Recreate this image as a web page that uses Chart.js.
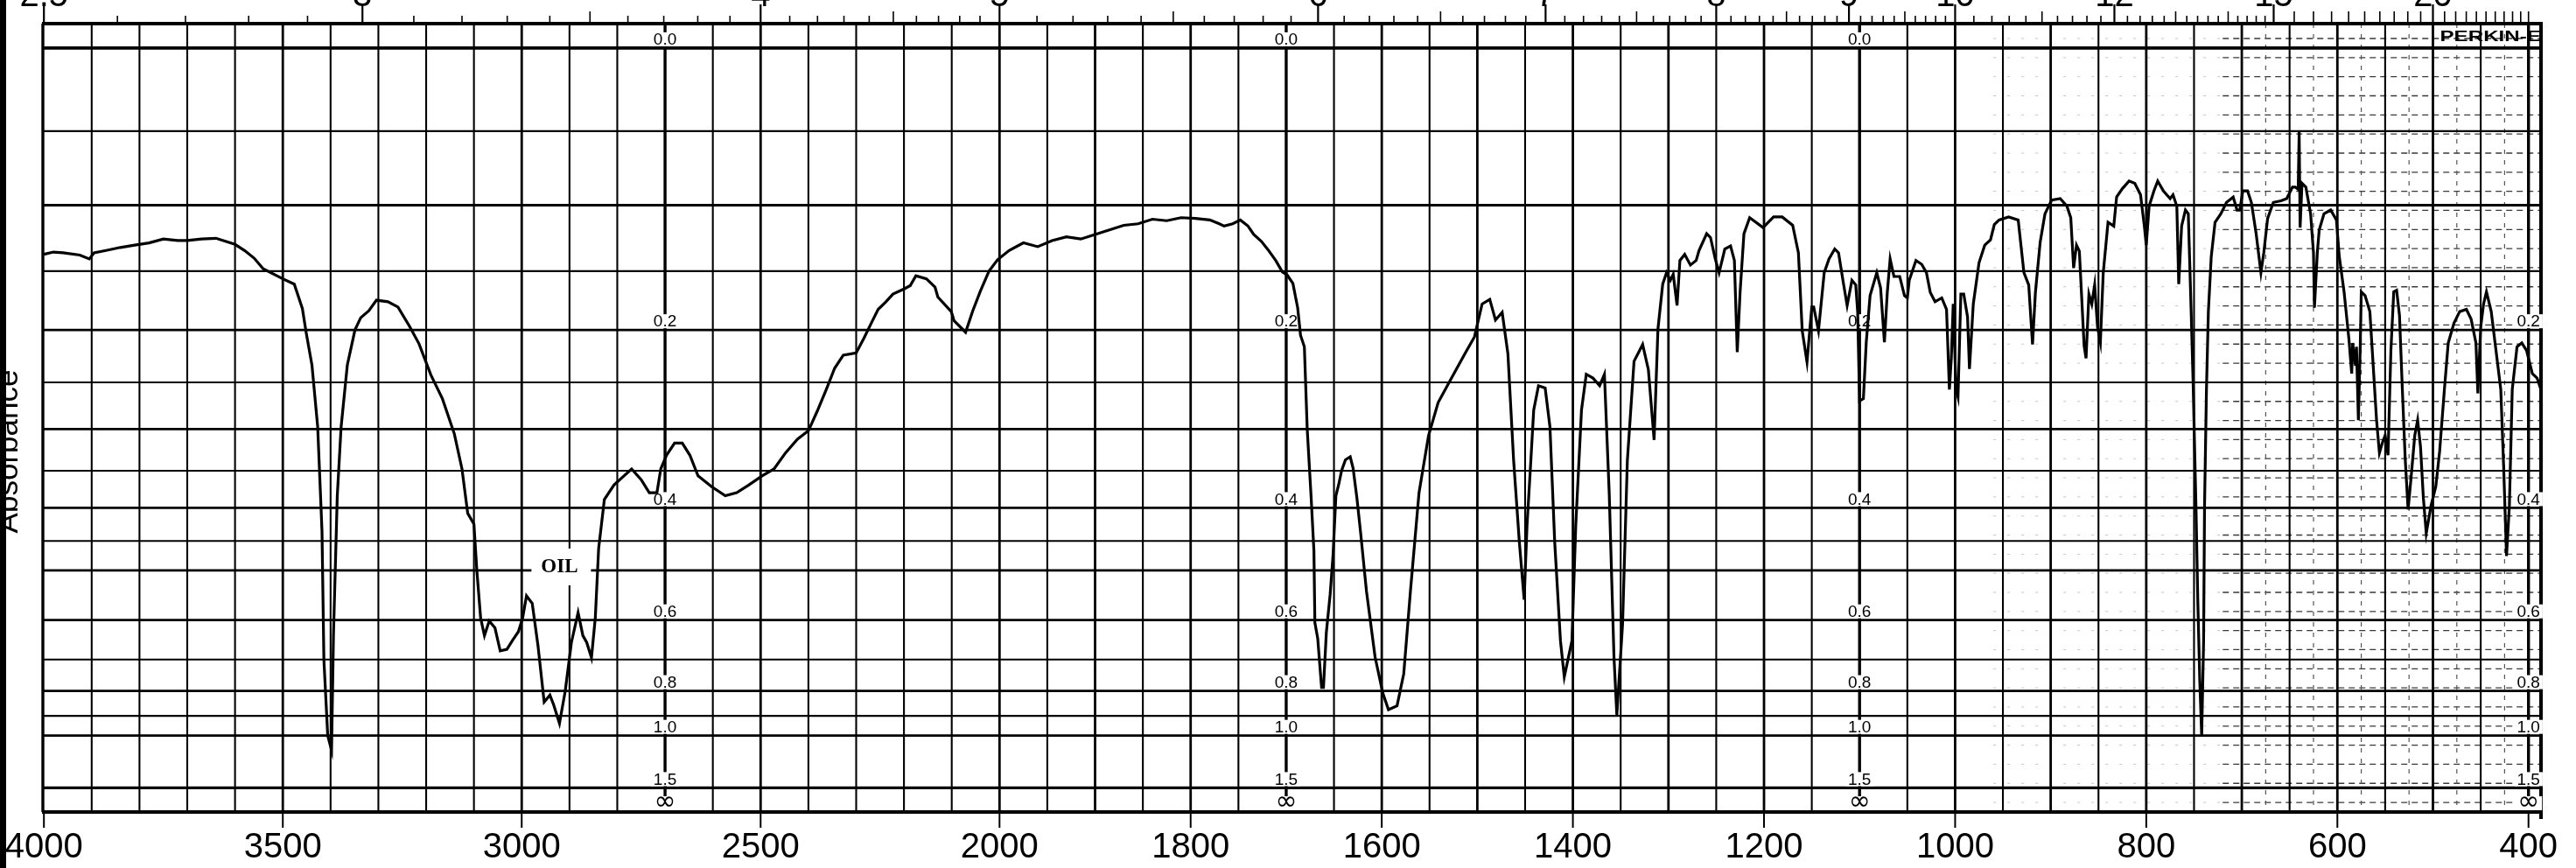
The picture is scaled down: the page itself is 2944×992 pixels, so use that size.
<!DOCTYPE html>
<html>
<head>
<meta charset="utf-8">
<script src="https://cdn.jsdelivr.net/npm/chart.js@4.4.1/dist/chart.umd.min.js"></script>
<style>
html,body{margin:0;padding:0;background:#ffffff;overflow:hidden}
#wrap{position:relative;width:2944px;height:992px}
</style>
</head>
<body>
<div id="wrap"><canvas id="c" width="2944" height="992"></canvas></div>
<script>
// ---------- DATA ----------
// wavenumber in cm-1
const wavenumbers = [
 4000,3980,3960,3925,3905,3895,3870,3840,3810,3780,3750,3720,3700,3670,3640,3620,3600,3580,3560,3541,
 3500,3476,3459,3451,3439,3427,3418,3414,3406,3398,3394,3386,3378,3365,3349,3337,3320,3304,3280,3259,
 3235,3215,3190,3166,3141,3125,3113,3100,3094,3086,3078,3068,3056,3045,3031,3019,3007,2998,2990,2978,
 2966,2953,2941,2933,2921,2909,2896,2882,2872,2864,2854,2846,2839,2827,2807,2786,2770,2750,2733,2717,
 2709,2697,2680,2664,2648,2631,2603,2574,2550,2525,2497,2472,2448,2423,2400,2382,2362,2345,2327,2300,
 2284,2266,2254,2239,2223,2199,2187,2175,2153,2135,2129,2101,2095,2071,2056,2040,2022,2004,
 1990,1975,1960,1945,1930,1915,1900,1885,1870,1855,1840,1825,1810,1795,1780,1770,1765,1756,1748,1740,
 1734,1726,1719,1711,1704,1699,1693,1688,1685,1681,1678,1674,1671,1670,1667,1663,1661,1658,1654,1651,
 1648,1645,1642,1638,1633,1630,1626,1622,1618,1616,1607,1599,1593,1584,1577,1570,1561,1551,1541,1527,
 1513,1503,1495,1487,1481,1474,1468,1462,1456,1451,1448,1444,1441,1436,1429,1424,1419,1413,1409,1401,
 1397,1391,1386,1379,1372,1367,1362,1357,1354,1348,1343,1336,1327,1321,1315,1311,1306,1302,1298,1295,
 1291,1288,1283,1277,1271,1268,1260,1256,1251,1247,1241,1235,1231,1228,1225,1221,1215,1201,1190,1181,
 1170,1164,1160,1155,1150,1148,1143,1137,1132,1126,1122,1117,1113,1108,1104,1102,1100,1096,1093,1089,
 1082,1078,1074,1071,1068,1064,1058,1053,1050,1048,1041,1035,1030,1026,1021,1014,1009,1006,1004,1002,
 999,997,994,991,987,985,981,975,969,963,959,954,944,934,928,923,919,916,911,906,
 899,890,883,879,876,873,870,865,863,860,857,854,851,848,845,840,834,831,825,818,
 812,806,802,800,797,792,788,782,775,772,768,766,763,759,756,753,751,748,746,744,
 742,740,739,737,735,732,728,722,716,709,705,702,699,694,690,685,680,677,673,667,
 659,653,647,644,641,640,639,637,633,628,625,624,621,619,614,607,601,598,593,588,
 585,584,581,580,578,576,575,571,566,562,559,556,553,550,547,544,541,538,535,532,
 529,526,523,519,516,513,510,507,502,497,493,488,484,478,472,465,460,455,453,450,
 447,444,439,434,429,426,423,420,417,412,407,402,396,391,387
];
// transmittance in % (the chart paper is linear in %T, labelled in absorbance)
const transmittance = [
 73.0,73.3,73.2,72.9,72.4,73.2,73.5,73.9,74.2,74.5,75.0,74.8,74.8,75.0,75.1,74.7,74.3,73.5,72.5,71.1,
 69.8,69.1,65.9,62.7,58.5,50.4,36.8,19.9,10.0,8.1,23.1,41.4,50.4,58.5,63.1,64.7,65.6,67.0,66.8,66.1,
 63.6,61.3,57.2,54.1,49.5,44.9,39.1,37.7,31.7,25.4,23.1,25.0,24.1,21.1,21.3,22.5,23.6,25.4,28.3,27.3,
 21.8,14.4,15.3,14.0,11.6,15.8,22.2,26.1,23.1,22.2,20.2,25.4,34.5,40.9,42.8,44.0,44.9,43.5,41.8,41.8,
 44.9,46.7,48.3,48.3,46.7,44.0,42.6,41.4,41.8,42.8,44.0,44.9,47.0,48.8,49.9,52.4,55.4,58.1,59.8,60.1,
 62.0,64.3,65.8,66.7,67.8,68.5,68.9,70.2,69.8,68.7,67.4,65.5,64.3,62.8,65.6,68.2,70.8,72.3,
 73.5,74.5,74.0,74.8,75.3,75.0,75.6,76.2,76.8,77.0,77.6,77.4,77.8,77.7,77.5,77.0,76.7,77.0,77.5,76.7,
 75.6,74.7,73.6,72.2,70.7,70.3,69.2,66.0,62.4,60.9,50.1,41.4,34.2,24.8,22.7,16.3,16.3,23.5,28.5,33.6,
 41.4,42.9,44.7,46.1,46.5,45.0,41.1,36.4,31.4,28.9,20.3,15.6,13.4,13.9,18.1,28.9,41.8,49.3,53.6,56.8,
 60.0,62.2,66.5,67.1,64.4,65.4,60.0,46.0,35.3,27.8,37.5,46.0,52.6,55.8,55.5,50.4,35.3,22.4,17.7,22.4,
 37.5,52.6,57.3,56.8,55.8,57.3,41.8,20.3,12.7,24.6,46.0,59.0,61.2,57.9,48.7,63.2,69.1,70.6,69.6,70.4,
 66.3,72.2,73.0,71.6,72.2,73.5,75.7,75.2,72.4,70.6,73.7,74.1,72.2,60.2,68.1,75.7,77.8,76.5,77.9,77.9,
 76.8,73.2,63.0,58.9,66.1,66.1,63.0,70.6,72.4,73.7,73.2,69.3,66.3,69.6,69.0,65.5,53.8,54.1,61.5,67.6,
 70.6,68.6,61.5,68.0,72.4,70.1,70.1,67.6,67.3,69.6,72.2,71.7,70.6,68.0,66.8,67.3,65.8,55.3,59.4,66.5,
 55.3,54.3,67.8,67.8,64.8,58.0,66.5,71.9,74.2,74.9,76.9,77.5,77.9,77.5,70.6,69.0,61.2,68.0,74.6,78.3,
 80.1,80.3,79.3,77.8,71.2,74.2,73.4,61.0,59.4,67.8,66.5,69.0,63.5,61.5,70.6,77.2,76.7,80.5,81.6,82.6,
 82.3,80.8,76.7,74.2,79.3,81.3,82.6,81.3,80.3,80.8,79.3,69.1,76.7,78.8,78.3,65.5,56.4,40.1,27.4,17.2,
 10.0,22.3,40.1,55.3,65.5,72.7,77.2,78.3,79.8,80.5,78.8,78.8,81.3,81.3,79.8,75.7,70.6,73.2,77.7,79.8,
 80.0,80.3,81.8,81.8,81.5,89.0,76.5,82.3,81.8,78.3,73.2,66.0,73.2,76.2,78.3,78.8,77.5,72.7,68.1,62.0,
 57.4,61.4,58.4,60.9,51.3,61.4,68.1,67.6,65.5,57.4,51.3,47.0,48.3,49.3,46.7,60.4,68.1,68.3,65.0,55.3,
 46.2,39.6,43.6,49.3,51.3,47.8,41.1,36.5,40.1,42.6,47.2,55.3,61.4,64.0,65.5,65.8,64.5,61.4,54.8,63.5,
 66.5,68.1,65.5,60.4,55.3,45.2,33.5,40.1,55.3,60.9,61.4,60.4,57.4,56.8,55.3
];
// axis labels
const xTickLabels = [4000,3500,3000,2500,2000,1800,1600,1400,1200,1000,800,600,400];
const micronLabels = [2.5,3,4,5,6,7,8,9,10,12,15,20];
const absorbanceGrid = [0,0.05,0.1,0.15,0.2,0.25,0.3,0.35,0.4,0.45,0.5,0.6,0.7,0.8,0.9,1.0,1.5];
const absorbanceLabels = ['0.0','0.2','0.4','0.6','0.8','1.0','1.5','\u221E'];
const absorbanceLabelValues = [0,0.2,0.4,0.6,0.8,1.0,1.5,Infinity];
const labelColumns = [2700,1700,1100,400];
const yAxisTitle = 'Absorbance';
const sampleNote = {text:'OIL', wavenumber:2921, transmittance:32.2};

// ---------- custom x scale: 4000-2000 compressed, 2000-400 expanded x2 ----------
class SpectrumScale extends Chart.LinearScale {
  static id = 'spectrum';
  _u(v){
    const b = this.options.breakpoint, k = this.options.stretch, hi = this.max;
    return v >= b ? (hi - v) : (hi - b) + k * (b - v);
  }
  _ends(){
    const a = this.chart.chartArea;
    if (a && a.right > a.left) return [a.left, a.right];
    return [this.left, this.right];
  }
  getPixelForValue(v){
    const [L,R] = this._ends();
    return L + (R - L) * this._u(v) / this._u(this.min);
  }
  getValueForPixel(p){
    const [L,R] = this._ends();
    const u = (p - L) / (R - L) * this._u(this.min);
    const b = this.options.breakpoint, k = this.options.stretch, hi = this.max;
    return u <= hi - b ? hi - u : b - (u - (hi - b)) / k;
  }
}
Chart.register(SpectrumScale);

const TMAX = 103.2;
const tFromA = A => (A === Infinity ? 0 : 100 * Math.pow(10, -A));

// ---------- chart paper plugin ----------
const paper = {
  id: 'paper',
  beforeDatasetsDraw(chart){
    const ctx = chart.ctx, xs = chart.scales.x, ys = chart.scales.y, a = chart.chartArea;
    const X = v => xs.getPixelForValue(v), Y = t => ys.getPixelForValue(t);
    ctx.save();
    ctx.lineCap = 'butt';
    // fine dashed ruling visible in the low-wavenumber part of the scan
    for (let t = 1.25; t < TMAX; t += 2.5) {
      ctx.setLineDash([3,13]);
      ctx.strokeStyle = '#c4c4c4'; ctx.lineWidth = 1;
      ctx.beginPath(); ctx.moveTo(X(960), Y(t)); ctx.lineTo(X(720), Y(t)); ctx.stroke();
      ctx.setLineDash([7,5]);
      ctx.strokeStyle = '#3a3a3a'; ctx.lineWidth = 1.3;
      ctx.beginPath(); ctx.moveTo(X(720), Y(t)); ctx.lineTo(a.right, Y(t)); ctx.stroke();
    }
    ctx.setLineDash([5,7]);
    ctx.strokeStyle = '#555'; ctx.lineWidth = 1.2;
    for (let w = 675; w > 386; w -= 50) {
      ctx.beginPath(); ctx.moveTo(X(w), a.top); ctx.lineTo(X(w), a.bottom); ctx.stroke();
    }
    ctx.setLineDash([]);
    ctx.strokeStyle = '#000';
    // vertical grid
    const vgrid = [];
    for (let w = 3900; w > 2000; w -= 100) vgrid.push(w);
    for (let w = 2000; w > 400; w -= 50) vgrid.push(w);
    vgrid.push(400);
    vgrid.forEach(w => {
      const heavy = labelColumns.includes(w);
      const mid = (w >= 2000 && w % 500 === 0) || (w < 2000 && w % 100 === 0);
      ctx.lineWidth = heavy ? 3.4 : (mid ? 2.8 : 2.1);
      const x = X(w);
      ctx.beginPath(); ctx.moveTo(x, a.top); ctx.lineTo(x, a.bottom); ctx.stroke();
    });
    // horizontal grid (absorbance lines on a %T scale)
    absorbanceGrid.forEach(A => {
      const heavy = [0,0.1,0.2,0.3,0.4,0.5,0.6,0.8,1.0,1.5].some(v => Math.abs(v - A) < 1e-9);
      ctx.lineWidth = A === 0 ? 3.8 : (A === 1.5 ? 3.4 : (heavy ? 2.8 : 2.1));
      const y = Y(tFromA(A));
      ctx.beginPath(); ctx.moveTo(a.left, y); ctx.lineTo(a.right, y); ctx.stroke();
    });
    // frame
    ctx.lineWidth = 4;
    ctx.beginPath(); ctx.moveTo(a.left, Y(TMAX)); ctx.lineTo(a.right, Y(TMAX)); ctx.stroke();
    ctx.beginPath(); ctx.moveTo(a.left, Y(0)); ctx.lineTo(a.right, Y(0)); ctx.stroke();
    ctx.lineWidth = 3.4;
    ctx.beginPath(); ctx.moveTo(a.left + 1, a.top); ctx.lineTo(a.left + 1, a.bottom); ctx.stroke();
    ctx.lineWidth = 4;
    ctx.beginPath(); ctx.moveTo(a.right - 1, a.top - 2); ctx.lineTo(a.right - 1, a.bottom + 8); ctx.stroke();

    // absorbance labels along the label columns
    ctx.textAlign = 'center'; ctx.textBaseline = 'middle';
    labelColumns.forEach(col => {
      const x = X(col);
      absorbanceLabels.forEach((lab, i) => {
        if (col === 400 && i === 0) return;
        const y = Y(tFromA(absorbanceLabelValues[i])) - 10;
        const isInf = absorbanceLabelValues[i] === Infinity;
        ctx.font = isInf ? '30px "DejaVu Sans"' : '19px "Liberation Sans"';
        const w = ctx.measureText(lab).width;
        ctx.fillStyle = '#fff';
        ctx.fillRect(x - w / 2 - 3, y - 8, w + 6, 16);
        ctx.fillStyle = '#000';
        ctx.fillText(lab, x, isInf ? y - 1 : y + 1);
      });
    });
    // OIL note
    {
      const x = X(sampleNote.wavenumber), y = Y(sampleNote.transmittance);
      ctx.fillStyle = '#fff';
      ctx.fillRect(x - 32, y - 20, 68, 42);
      ctx.fillStyle = '#000';
      ctx.font = 'bold 23px "Liberation Serif"';
      ctx.fillText(sampleNote.text, x, y + 1);
    }
    // maker logo (cut at the frame)
    ctx.save();
    ctx.beginPath(); ctx.rect(a.left, a.top, a.right - a.left - 2, a.bottom - a.top); ctx.clip();
    ctx.translate(X(500) + 8, (Y(TMAX) + Y(100)) / 2 + 1);
    ctx.scale(1.42, 1);
    ctx.font = 'bold 17px "Liberation Sans"';
    ctx.textAlign = 'left'; ctx.textBaseline = 'middle';
    ctx.fillStyle = '#000';
    ctx.fillText('PERKIN-ELMER', 0, 0);
    ctx.restore();
    ctx.restore();
  },
  afterDraw(chart){
    const ctx = chart.ctx, xs = chart.scales.x, a = chart.chartArea;
    const X = v => xs.getPixelForValue(v);
    ctx.save();
    ctx.fillStyle = '#000'; ctx.strokeStyle = '#000';
    // bottom wavenumber axis
    ctx.lineWidth = 2;
    ctx.font = '40px "Liberation Sans"';
    ctx.textAlign = 'center'; ctx.textBaseline = 'alphabetic';
    xTickLabels.forEach(w => {
      const x = X(w);
      ctx.beginPath(); ctx.moveTo(x, a.bottom); ctx.lineTo(x, a.bottom + 18); ctx.stroke();
      ctx.fillText(String(w), x, 980);
    });
    // top micrometre axis
    const ticks = [];
    for (let m = 2.5; m <= 10.001; m += 0.1) ticks.push(+m.toFixed(2));
    for (let m = 10.2; m <= 15.001; m += 0.2) ticks.push(+m.toFixed(2));
    for (let m = 15.5; m <= 25.001; m += 0.5) ticks.push(+m.toFixed(2));
    ticks.forEach(m => {
      const w = 10000 / m;
      if (w > 4004 || w < 388) return;
      const major = micronLabels.some(v => Math.abs(v - m) < 1e-6);
      const half = Math.abs(m * 2 - Math.round(m * 2)) < 1e-6;
      const len = major ? 22 : (half ? 14 : 9);
      const x = X(w);
      ctx.lineWidth = major ? 2.2 : 1.6;
      ctx.beginPath(); ctx.moveTo(x, a.top); ctx.lineTo(x, a.top - len); ctx.stroke();
    });
    ctx.font = '40px "Liberation Sans"';
    micronLabels.forEach(m => {
      ctx.fillText(String(m), X(10000 / m), 7);
    });
    // y axis title (cut by the binding edge)
    ctx.save();
    ctx.translate(20, 516);
    ctx.rotate(-Math.PI / 2);
    ctx.font = '35px "Liberation Sans"';
    ctx.textAlign = 'center'; ctx.textBaseline = 'alphabetic';
    ctx.fillText(yAxisTitle, 0, 0);
    ctx.restore();
    // black edge of the scan
    ctx.fillRect(0, 0, 7, 992);
    ctx.restore();
  }
};

const points = wavenumbers.map((w, i) => ({x: w, y: transmittance[i]}));

new Chart(document.getElementById('c'), {
  type: 'line',
  data: {
    datasets: [{
      data: points,
      borderColor: '#000',
      borderWidth: 3.2,
      pointRadius: 0,
      tension: 0,
      fill: false
    }]
  },
  options: {
    responsive: false,
    animation: false,
    devicePixelRatio: 1,
    layout: {padding: {left: 48, right: 39, top: 27, bottom: 64}},
    plugins: {legend: {display: false}, tooltip: {enabled: false}},
    scales: {
      x: {type: 'spectrum', min: 386, max: 4004, breakpoint: 2000, stretch: 2, bounds: 'data', display: false},
      y: {type: 'linear', min: 0, max: TMAX, bounds: 'data', display: false}
    }
  },
  plugins: [paper]
});
</script>
</body>
</html>
